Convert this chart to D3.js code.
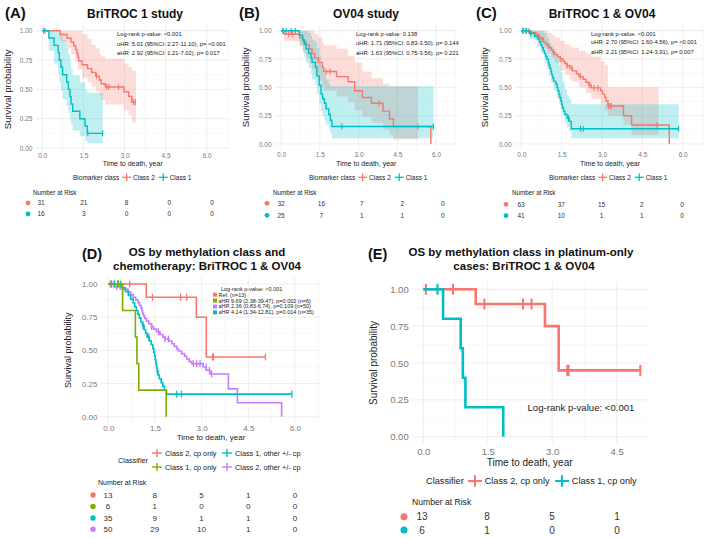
<!DOCTYPE html>
<html>
<head>
<meta charset="utf-8">
<script src="https://cdn.jsdelivr.net/npm/d3@7"></script>
<style>
  body { margin: 0; background: #fff; }
  svg { font-family: "Liberation Sans", Arial, sans-serif; }
</style>
</head>
<body>
<script>
// Kaplan-Meier panels, values.
// steps: [time, survival] (step after), bands: [time, lower, upper]

var RED = "#F8766D", CYAN = "#00BFC4", GREEN = "#7CAE00", PURPLE = "#C77CFF";
var timeBreaks = [0, 1.5, 3, 4.5, 6];
var timeBreaksE = [0, 1.5, 3, 4.5];
var survBreaks = [0, 0.25, 0.5, 0.75, 1];

// ---- (A) BriTROC 1 study
var aClass2 = [[0,1],[0.65,0.968],[0.9,0.935],[1.05,0.903],[1.15,0.871],[1.22,0.839],[1.27,0.806],[1.3,0.774],[1.33,0.742],[1.45,0.71],[1.65,0.677],[1.8,0.645],[1.95,0.613],[2.08,0.58],[2.15,0.548],[2.3,0.52],[2.98,0.48],[3.15,0.44],[3.27,0.39],[3.42,0.39]];
var aClass2Cens = [0.1, 1.98, 2.35, 2.42, 2.78, 3.33, 3.4];
var aClass2Band = [[0,1,1],[0.65,0.91,1],[0.9,0.85,1],[1.05,0.8,1],[1.2,0.74,1],[1.3,0.67,1],[1.45,0.6,0.97],[1.65,0.56,0.93],[1.8,0.52,0.88],[1.95,0.48,0.85],[2.1,0.44,0.8],[2.15,0.41,0.78],[2.3,0.37,0.76],[2.98,0.32,0.72],[3.15,0.28,0.69],[3.27,0.22,0.66],[3.42,0.22,0.66]];
var aClass1 = [[0,1],[0.24,0.938],[0.43,0.875],[0.58,0.813],[0.62,0.75],[0.68,0.688],[0.74,0.625],[0.89,0.563],[0.95,0.5],[1.01,0.438],[1.05,0.375],[1.11,0.313],[1.37,0.25],[1.56,0.188],[1.64,0.125],[2.2,0.125]];
var aClass1Cens = [0.05, 1.66, 2.2];
var aClass1Band = [[0,1,1],[0.24,0.83,1],[0.43,0.72,1],[0.58,0.63,1],[0.62,0.56,1],[0.68,0.49,0.97],[0.74,0.42,0.92],[0.89,0.36,0.85],[0.95,0.3,0.8],[1.01,0.25,0.74],[1.05,0.2,0.68],[1.11,0.15,0.62],[1.37,0.1,0.56],[1.56,0.06,0.5],[1.64,0.04,0.47],[2.2,0.04,0.47]];
var aNotes = ["Log-rank p-value: <0.001", "uHR: 5.01 (95%CI: 2.27-11.10), p= <0.001", "aHR: 2.92 (95%CI: 1.21-7.02), p= 0.017"];
var aRisk = [[31, 21, 8, 0, 0], [16, 3, 0, 0, 0]];

// ---- (B) OV04 study
var bClass2 = [[0,1],[0.12,0.969],[0.72,0.938],[0.85,0.906],[0.97,0.875],[1.1,0.84],[1.2,0.8],[1.3,0.76],[1.45,0.72],[1.6,0.68],[1.65,0.64],[2.15,0.595],[2.6,0.55],[2.85,0.47],[3.15,0.41],[3.5,0.36],[3.95,0.29],[4.2,0.22],[4.35,0.155],[5.8,0]];
var bClass2Cens = [0.08, 0.3, 0.45, 1.75, 1.9, 3.8, 5.3];
var bClass2Band = [[0,1,1],[0.12,0.91,1],[0.72,0.86,1],[0.85,0.81,1],[0.97,0.76,1],[1.1,0.71,1],[1.2,0.66,1],[1.3,0.61,0.97],[1.45,0.56,0.94],[1.6,0.51,0.9],[1.65,0.47,0.87],[2.15,0.42,0.84],[2.6,0.37,0.78],[2.85,0.3,0.72],[3.15,0.24,0.64],[3.5,0.19,0.58],[3.95,0.13,0.53],[4.2,0.08,0.51],[4.35,0.04,0.51],[5.3,0.04,0.51]];
var bClass1 = [[0,1],[0.71,0.96],[0.84,0.92],[0.9,0.88],[0.97,0.84],[1.07,0.8],[1.16,0.76],[1.2,0.72],[1.33,0.68],[1.39,0.6],[1.48,0.52],[1.55,0.44],[1.61,0.4],[1.68,0.36],[1.74,0.31],[1.85,0.26],[1.91,0.21],[1.97,0.155],[5.9,0.155]];
var bClass1Cens = [0.07, 0.2, 0.4, 0.55, 2.35, 5.9];
var bClass1Band = [[0,1,1],[0.71,0.88,1],[0.84,0.82,1],[0.9,0.77,1],[0.97,0.72,1],[1.07,0.67,0.98],[1.16,0.62,0.95],[1.2,0.57,0.92],[1.33,0.52,0.9],[1.39,0.44,0.85],[1.48,0.36,0.78],[1.55,0.29,0.7],[1.61,0.25,0.66],[1.68,0.21,0.62],[1.74,0.17,0.57],[1.85,0.13,0.53],[1.91,0.09,0.51],[1.97,0.05,0.51],[5.9,0.05,0.51]];
var bNotes = ["Log-rank p-value: 0.138", "uHR: 1.71 (95%CI: 0.83-3.50), p= 0.144", "aHR: 1.63 (95%CI: 0.75-3.56), p= 0.221"];
var bRisk = [[32, 16, 7, 2, 0], [25, 7, 1, 1, 0]];

// ---- (C) BriTROC 1 & OV04
var cClass2 = [[0,1],[0.35,0.984],[0.55,0.968],[0.62,0.952],[0.7,0.935],[0.77,0.918],[0.83,0.9],[0.9,0.883],[0.97,0.866],[1.05,0.849],[1.12,0.83],[1.18,0.81],[1.25,0.79],[1.35,0.77],[1.45,0.75],[1.55,0.73],[1.62,0.71],[1.7,0.69],[1.8,0.67],[1.9,0.645],[2.05,0.62],[2.15,0.595],[2.3,0.57],[2.4,0.545],[2.5,0.52],[2.6,0.495],[2.95,0.47],[3.02,0.44],[3.1,0.41],[3.15,0.38],[3.22,0.335],[3.8,0.25],[4.1,0.168],[5.5,0]];
var cClass2Cens = [0.08, 0.15, 0.28, 0.65, 0.82, 1.0, 1.2, 1.45, 1.7, 1.88, 2.2, 2.55, 2.7, 2.85, 3.25, 3.3, 3.35, 5.05];
var cClass2Band = [[0,1,1],[0.35,0.95,1],[0.62,0.9,1],[0.83,0.85,1],[0.97,0.8,0.98],[1.12,0.76,0.96],[1.25,0.71,0.94],[1.45,0.65,0.91],[1.62,0.61,0.88],[1.8,0.57,0.86],[1.9,0.55,0.85],[2.15,0.5,0.82],[2.4,0.45,0.8],[2.6,0.4,0.77],[2.95,0.35,0.73],[3.1,0.3,0.7],[3.22,0.25,0.5],[3.8,0.17,0.5],[4.1,0.08,0.5],[5.1,0.08,0.5]];
var cClass1 = [[0,1],[0.3,0.976],[0.5,0.951],[0.6,0.927],[0.68,0.9],[0.73,0.875],[0.78,0.85],[0.82,0.825],[0.86,0.8],[0.9,0.775],[0.95,0.75],[1.0,0.72],[1.03,0.695],[1.06,0.67],[1.1,0.64],[1.13,0.61],[1.17,0.585],[1.2,0.555],[1.28,0.53],[1.33,0.5],[1.36,0.47],[1.4,0.44],[1.43,0.41],[1.47,0.38],[1.5,0.35],[1.53,0.32],[1.57,0.29],[1.62,0.26],[1.7,0.23],[1.78,0.2],[1.86,0.135],[5.85,0.135]];
var cClass1Cens = [0.05, 0.2, 0.35, 1.75, 2.2, 2.3, 5.85];
var cClass1Band = [[0,1,1],[0.3,0.93,1],[0.6,0.86,1],[0.73,0.8,1],[0.86,0.72,0.98],[0.95,0.66,0.94],[1.03,0.6,0.9],[1.1,0.54,0.86],[1.2,0.47,0.8],[1.33,0.4,0.75],[1.4,0.35,0.7],[1.47,0.3,0.63],[1.53,0.25,0.55],[1.62,0.18,0.48],[1.7,0.15,0.43],[1.78,0.11,0.4],[1.86,0.05,0.35],[5.85,0.05,0.35]];
var cNotes = ["Log-rank p-value: <0.001", "uHR: 2.70 (95%CI: 1.60-4.56), p= <0.001", "aHR: 2.21 (95%CI: 1.24-3.91), p= 0.007"];
var cRisk = [[63, 37, 15, 2, 0], [41, 10, 1, 1, 0]];

// ---- (D) / (E) methylation class x chemotherapy
var cpClass2 = [[0,1],[1.22,0.9],[2.83,0.75],[3.15,0.45],[5.05,0.45]];
var cpClass2Cens = [0.06, 0.69, 1.42, 2.32, 2.52, 3.35, 3.38, 5.05];
var cpClass1 = [[0,1],[0.46,0.8],[0.87,0.6],[0.92,0.4],[0.98,0.2],[1.86,0]];
var cpClass1Cens = [0.33];
var otherClass2 = [[0,1],[0.2,0.98],[0.45,0.96],[0.62,0.94],[0.72,0.92],[0.8,0.9],[0.88,0.88],[0.95,0.86],[1.0,0.84],[1.05,0.82],[1.08,0.8],[1.1,0.78],[1.13,0.76],[1.17,0.74],[1.23,0.72],[1.3,0.7],[1.39,0.68],[1.45,0.66],[1.55,0.64],[1.66,0.62],[1.75,0.6],[1.82,0.585],[1.95,0.57],[2.04,0.55],[2.12,0.53],[2.2,0.51],[2.25,0.495],[2.35,0.475],[2.45,0.455],[2.52,0.435],[2.6,0.415],[2.68,0.4],[3.05,0.375],[3.15,0.35],[3.27,0.322],[3.86,0.21],[4.15,0.105],[5.57,0]];
var otherClass2Cens = [0.11, 0.18, 0.27, 0.38, 0.64, 1.39, 1.61, 1.82, 1.93, 2.73, 2.84, 2.95, 3.14, 3.25, 3.32];
var otherClass1 = [[0,1],[0.45,0.971],[0.55,0.943],[0.65,0.914],[0.72,0.886],[0.8,0.857],[0.85,0.829],[0.9,0.8],[0.95,0.771],[1.0,0.743],[1.05,0.714],[1.1,0.686],[1.15,0.657],[1.2,0.629],[1.25,0.6],[1.32,0.571],[1.38,0.543],[1.43,0.514],[1.46,0.486],[1.49,0.457],[1.51,0.429],[1.53,0.4],[1.55,0.371],[1.57,0.343],[1.6,0.314],[1.64,0.286],[1.7,0.257],[1.75,0.229],[1.8,0.2],[1.87,0.17],[5.9,0.17]];
var otherClass1Cens = [0.1, 0.2, 0.3, 0.4, 1.12, 1.3, 1.58, 2.2, 2.35, 5.9];
var dLegendTitle = "Log-rank p-value: <0.001";
var dLegendRows = ["Ref. (n=13)", "aHR 9.69 (2.38-39.47), p=0.002 (n=6)", "aHR 2.36 (0.83-6.74), p=0.109 (n=50)", "aHR 4.14 (1.34-12.81), p=0.014 (n=35)"];
var dRisk = [[13, 8, 5, 1, 0], [6, 1, 0, 0, 0], [35, 9, 1, 1, 0], [50, 29, 10, 1, 0]];
var eRisk = [[13, 8, 5, 1], [6, 1, 0, 0]];

var svg = d3.select("body").append("svg")
    .attr("width", 709)
    .attr("height", 538);

// survival value at time t (for censor ticks)
function survAt(steps, t) {
  var s = steps[0][1];
  steps.forEach(function(p) { if (p[0] <= t) s = p[1]; });
  return s;
}

function addText(g, x, y, txt, size, opts) {
  opts = opts || {};
  return g.append("text")
    .attr("x", x).attr("y", y)
    .attr("dy", "0.35em")
    .attr("font-size", size)
    .attr("font-weight", opts.bold ? "bold" : null)
    .attr("text-anchor", opts.anchor || "start")
    .attr("fill", opts.fill || "#222")
    .text(txt);
}

// Draws one KM panel (grid, axes, bands, curves, censor ticks)
function drawPanel(p) {
  var g = svg.append("g");
  var x = d3.scaleLinear().domain([0, p.tmax0]).range([p.x0, p.xEnd]);
  var y = d3.scaleLinear().domain([0, 1]).range([p.y0, p.y1]);
  var left = x(p.tlo), right = x(p.thi), top = y(1.05), bottom = y(-0.05);

  // grid
  var minorX = p.breaks.map(function(b) { return b + 0.75; }).filter(function(v) { return v < p.thi; });
  var minorY = [0.125, 0.375, 0.625, 0.875];
  g.selectAll(null).data(minorX).enter().append("line")
    .attr("x1", x).attr("x2", x).attr("y1", top).attr("y2", bottom)
    .attr("stroke", "#f3f3f3").attr("stroke-width", 0.5);
  g.selectAll(null).data(minorY).enter().append("line")
    .attr("y1", y).attr("y2", y).attr("x1", left).attr("x2", right)
    .attr("stroke", "#f3f3f3").attr("stroke-width", 0.5);
  g.selectAll(null).data(p.breaks).enter().append("line")
    .attr("x1", x).attr("x2", x).attr("y1", top).attr("y2", bottom)
    .attr("stroke", "#e6e6e6").attr("stroke-width", 0.7);
  g.selectAll(null).data(survBreaks).enter().append("line")
    .attr("y1", y).attr("y2", y).attr("x1", left).attr("x2", right)
    .attr("stroke", "#e6e6e6").attr("stroke-width", 0.7);

  // axes (labels only)
  var ya = g.append("g").attr("transform", "translate(" + left + ",0)")
    .call(d3.axisLeft(y).tickValues(survBreaks).tickFormat(d3.format(".2f")).tickSize(0).tickPadding(3));
  var pad = Math.max(0, p.xTickY - bottom - 0.36 * p.tickFs);
  var xa = g.append("g").attr("transform", "translate(0," + bottom + ")")
    .call(d3.axisBottom(x).tickValues(p.breaks).tickFormat(d3.format(".1f")).tickSize(0).tickPadding(pad));
  [ya, xa].forEach(function(a) {
    a.select(".domain").remove();
    a.attr("font-size", p.tickFs).attr("font-family", null);
    a.selectAll("text").attr("fill", "#7a7a7a");
  });

  // axis titles
  addText(g, (left + right) / 2, p.xlabY, "Time to death, year", p.xlabFs, {anchor: "middle"});
  g.append("text")
    .attr("transform", "translate(" + p.ylabX + "," + (top + bottom) / 2 + ") rotate(-90)")
    .attr("dy", "0.35em").attr("text-anchor", "middle")
    .attr("font-size", p.ylabFs).attr("fill", "#222")
    .text("Survival probability");

  // confidence bands
  var area = d3.area().curve(d3.curveStepAfter)
    .x(function(d) { return x(d[0]); })
    .y0(function(d) { return y(d[1]); })
    .y1(function(d) { return y(d[2]); });
  (p.bands || []).forEach(function(b) {
    g.append("path").attr("d", area(b.data)).attr("fill", b.color).attr("fill-opacity", 0.25);
  });

  // curves + censor ticks
  var line = d3.line().curve(d3.curveStepAfter)
    .x(function(d) { return x(d[0]); })
    .y(function(d) { return y(d[1]); });
  p.curves.forEach(function(c) {
    g.append("path").attr("d", line(c.steps))
      .attr("fill", "none").attr("stroke", c.color).attr("stroke-width", p.lw);
    g.selectAll(null).data(c.cens).enter().append("line")
      .attr("x1", x).attr("x2", x)
      .attr("y1", function(t) { return y(survAt(c.steps, t)) - p.tick; })
      .attr("y2", function(t) { return y(survAt(c.steps, t)) + p.tick; })
      .attr("stroke", c.color).attr("stroke-width", p.lw * 0.8);
  });

  return {g: g, x: x, y: y, left: left, right: right, top: top, bottom: bottom};
}

// Legend: title then "+" keys laid out left to right
function drawLegend(g, x0, yc, title, items, fs, cw, lw) {
  var t = addText(g, x0, yc, title, fs);
  var cx = x0 + t.node().getComputedTextLength() + fs * 0.45;
  items.forEach(function(it) {
    g.append("line").attr("x1", cx).attr("x2", cx + cw).attr("y1", yc).attr("y2", yc)
      .attr("stroke", it.color).attr("stroke-width", lw);
    g.append("line").attr("x1", cx + cw / 2).attr("x2", cx + cw / 2).attr("y1", yc - cw * 0.42).attr("y2", yc + cw * 0.42)
      .attr("stroke", it.color).attr("stroke-width", lw);
    var tt = addText(g, cx + cw + fs * 0.3, yc, it.name, fs);
    cx = cx + cw + fs * 0.3 + tt.node().getComputedTextLength() + fs * 0.6;
  });
}

// Number-at-risk table
function drawRisk(r) {
  var g = svg.append("g");
  var xr = d3.scaleLinear().domain([0, r.tmax]).range(r.range);
  addText(g, r.headX, r.headY, "Number at Risk", r.headFs);
  r.rows.forEach(function(row, i) {
    g.append("circle").attr("cx", r.dotX).attr("cy", r.rowY[i]).attr("r", r.dotR).attr("fill", r.colors[i]);
    g.selectAll(null).data(row).enter().append("text")
      .attr("x", function(d, j) { return xr(r.breaks[j]); })
      .attr("y", r.rowY[i]).attr("dy", "0.35em")
      .attr("text-anchor", "middle").attr("font-size", r.fs).attr("fill", "#333")
      .text(function(d) { return d; });
  });
}

// ---------------- top row: A, B, C
var topPanels = [
  {tag: "(A)", tagX: 5, title: "BriTROC 1 study", titleX: 135, x0: 42.3, xEnd: 206.7, y0: 148, y1: 30.7,
   ylabX: 8, xTickY: 155.5, noteX: 117, noteY: [34, 43.5, 53], notes: aNotes, legX: 73,
   riskRange: [41, 212], dotX: 28, headX: 33, rowY: [203, 214], risk: aRisk,
   curves: [{steps: aClass2, cens: aClass2Cens, color: RED}, {steps: aClass1, cens: aClass1Cens, color: CYAN}],
   bands: [{data: aClass2Band, color: RED}, {data: aClass1Band, color: CYAN}]},
  {tag: "(B)", tagX: 239, title: "OV04 study", titleX: 366, x0: 281, xEnd: 436, y0: 144, y1: 30.7,
   ylabX: 246, xTickY: 154.5, noteX: 356, noteY: [33.5, 43, 53], notes: bNotes, legX: 309,
   riskRange: [281, 442.7], dotX: 267, headX: 273, rowY: [203.3, 215.3], risk: bRisk,
   curves: [{steps: bClass2, cens: bClass2Cens, color: RED}, {steps: bClass1, cens: bClass1Cens, color: CYAN}],
   bands: [{data: bClass2Band, color: RED}, {data: bClass1Band, color: CYAN}]},
  {tag: "(C)", tagX: 476, title: "BriTROC 1 & OV04", titleX: 602, x0: 521.3, xEnd: 682.7, y0: 144, y1: 30.7,
   ylabX: 485, xTickY: 154.5, noteX: 591, noteY: [33.5, 42, 51.5], notes: cNotes, legX: 549,
   riskRange: [521, 682], dotX: 506, headX: 512, rowY: [204.3, 215.7], risk: cRisk,
   curves: [{steps: cClass2, cens: cClass2Cens, color: RED}, {steps: cClass1, cens: cClass1Cens, color: CYAN}],
   bands: [{data: cClass2Band, color: RED}, {data: cClass1Band, color: CYAN}]}
];

topPanels.forEach(function(p) {
  p.tmax0 = 6; p.tlo = -0.25; p.thi = 6.85; p.breaks = timeBreaks;
  p.tickFs = 6.5; p.xlabFs = 7; p.ylabFs = 9.5; p.xlabY = 163.5; p.lw = 1.4; p.tick = 3;
  var r = drawPanel(p);
  addText(r.g, p.tagX, 13, p.tag, 15, {bold: true, fill: "#111"});
  addText(r.g, p.titleX, 13.5, p.title, 12, {bold: true, anchor: "middle", fill: "#111"});
  p.notes.forEach(function(n, i) { addText(r.g, p.noteX, p.noteY[i], n, 5.8); });
  drawLegend(r.g, p.legX, 177.3, "Biomarker class",
    [{name: "Class 2", color: RED}, {name: "Class 1", color: CYAN}], 6.5, 9, 1.3);
  drawRisk({tmax: 6, range: p.riskRange, breaks: timeBreaks, headX: p.headX, headY: 193, headFs: 6.3,
    dotX: p.dotX, dotR: 2.4, rowY: p.rowY, rows: p.risk, colors: [RED, CYAN], fs: 6.5});
});

// ---------------- (D)
var dPanel = drawPanel({
  tmax0: 6, x0: 108.3, xEnd: 295, y0: 416.7, y1: 284, tlo: -0.25, thi: 6.85, breaks: timeBreaks,
  tickFs: 8, xlabFs: 8, ylabFs: 9, xTickY: 428, xlabY: 437.5, ylabX: 68, lw: 1.6, tick: 3.5,
  curves: [
    {steps: cpClass2, cens: cpClass2Cens, color: RED},
    {steps: otherClass2, cens: otherClass2Cens, color: PURPLE},
    {steps: otherClass1, cens: otherClass1Cens, color: CYAN},
    {steps: cpClass1, cens: cpClass1Cens, color: GREEN}
  ]
});
addText(dPanel.g, 82, 254, "(D)", 14.5, {bold: true, fill: "#111"});
addText(dPanel.g, 207, 252, "OS by methylation class and", 11.5, {bold: true, anchor: "middle", fill: "#111"});
addText(dPanel.g, 207, 265.5, "chemotherapy: BriTROC 1 & OV04", 11.5, {bold: true, anchor: "middle", fill: "#111"});

// in-panel legend box
var dKeyColors = [RED, GREEN, PURPLE, CYAN];
addText(dPanel.g, 221, 289, dLegendTitle, 5.5);
dLegendRows.forEach(function(txt, i) {
  var yy = 294.7 + i * 5.9;
  dPanel.g.append("rect").attr("x", 213).attr("y", yy - 2).attr("width", 4).attr("height", 4).attr("fill", dKeyColors[i]);
  addText(dPanel.g, 218.5, yy, txt, 5.5);
});

// bottom legend in 2 x 2
addText(dPanel.g, 118, 460.5, "Classifier", 7.3);
var dKeys = [
  {name: "Class 2, cp only", color: RED, cx: 157, cy: 453},
  {name: "Class 1, other +/- cp", color: CYAN, cx: 227, cy: 453},
  {name: "Class 1, cp only", color: GREEN, cx: 157, cy: 467},
  {name: "Class 2, other +/- cp", color: PURPLE, cx: 227, cy: 467}
];
dKeys.forEach(function(k) {
  dPanel.g.append("line").attr("x1", k.cx - 5).attr("x2", k.cx + 5).attr("y1", k.cy).attr("y2", k.cy)
    .attr("stroke", k.color).attr("stroke-width", 1.4);
  dPanel.g.append("line").attr("x1", k.cx).attr("x2", k.cx).attr("y1", k.cy - 4).attr("y2", k.cy + 4)
    .attr("stroke", k.color).attr("stroke-width", 1.4);
  addText(dPanel.g, k.cx + 8, k.cy, k.name, 7.3);
});
drawRisk({tmax: 6, range: [108, 295], breaks: timeBreaks, headX: 98, headY: 483, headFs: 7,
  dotX: 93, dotR: 2.7, rowY: [495, 506.5, 518, 529.3], rows: dRisk, colors: [RED, GREEN, CYAN, PURPLE], fs: 8});

// ---------------- (E)
var ePanel = drawPanel({
  tmax0: 4.5, x0: 423.3, xEnd: 616.7, y0: 436.7, y1: 289.3, tlo: -0.27, thi: 5.22, breaks: timeBreaksE,
  tickFs: 9.5, xlabFs: 10, ylabFs: 10, xTickY: 451.7, xlabY: 462, ylabX: 373, lw: 2.6, tick: 5.5,
  curves: [
    {steps: cpClass2, cens: cpClass2Cens, color: RED},
    {steps: cpClass1, cens: cpClass1Cens, color: CYAN}
  ]
});
addText(ePanel.g, 368, 254, "(E)", 14.5, {bold: true, fill: "#111"});
addText(ePanel.g, 521, 252, "OS by methylation class in platinum-only", 11.5, {bold: true, anchor: "middle", fill: "#111"});
addText(ePanel.g, 524, 265.5, "cases: BriTROC 1 & OV04", 11.5, {bold: true, anchor: "middle", fill: "#111"});
addText(ePanel.g, 527.5, 407.5, "Log-rank p-value: <0.001", 9.6);
drawLegend(ePanel.g, 426, 481, "Classifier",
  [{name: "Class 2, cp only", color: RED}, {name: "Class 1, cp only", color: CYAN}], 9.2, 14, 2);
drawRisk({tmax: 4.5, range: [422, 617], breaks: timeBreaksE, headX: 412, headY: 501.7, headFs: 8.6,
  dotX: 404, dotR: 3.5, rowY: [516.7, 530], rows: eRisk, colors: [RED, CYAN], fs: 10});
</script>
</body>
</html>
